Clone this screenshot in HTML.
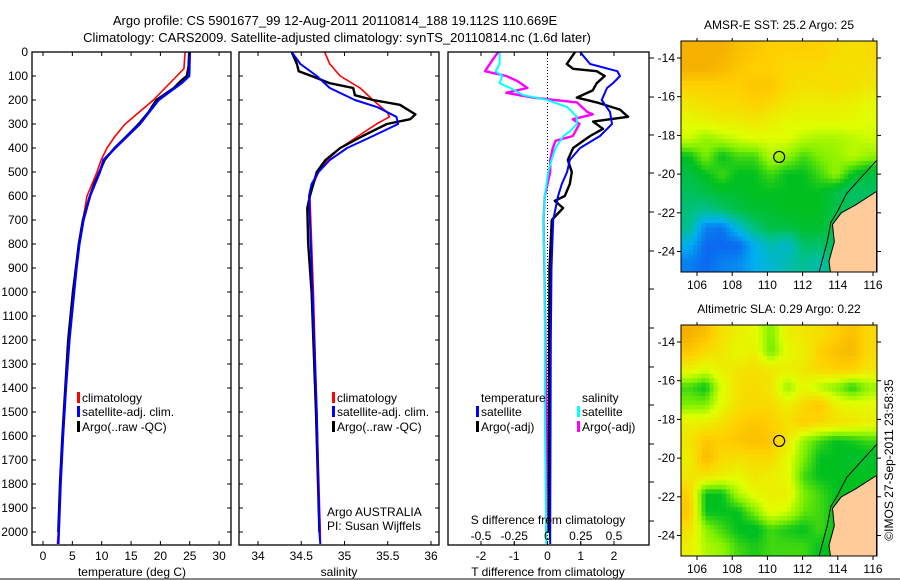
<!DOCTYPE html>
<html><head><meta charset="utf-8"><style>
body{margin:0;background:#fff}
svg{display:block;font-family:"Liberation Sans",sans-serif}
</style></head><body>
<svg id="fig" width="900" height="580" viewBox="0 0 900 580">
<rect x="0" y="0" width="900" height="580" fill="#fff"/>
<line x1="0" y1="579" x2="900" y2="579" stroke="#888" stroke-width="2"/>
<text x="335" y="25" text-anchor="middle" font-size="13">Argo profile: CS 5901677_99 12-Aug-2011 20110814_188 19.112S 110.669E</text>
<text x="337" y="42" text-anchor="middle" font-size="13">Climatology: CARS2009. Satellite-adjusted climatology: synTS_20110814.nc (1.6d later)</text>
<text transform="translate(893,460) rotate(-90)" text-anchor="middle" font-size="12">©IMOS 27-Sep-2011 23:58:35</text>
<g id="g"></g>
</svg>
<script>
// ---- temperature profile data ----
const tClimDepth=[0,70,100,150,200,250,300,350,400,450,500,600,700,800,900,1000,1200,1400,1600,1800,2000,2050];
const tClim=[24.2,24.0,22.8,20.8,18.8,16.4,14.0,12.3,10.9,9.9,9.2,7.5,6.8,6.2,5.7,5.2,4.4,3.8,3.3,2.9,2.6,2.45];
const tSatDepth=[0,100,130,200,300,400,450,500,600,700,800,900,1000,1200,1400,1600,1800,2000,2050];
const tSat=[25.0,24.9,23.6,19.7,16.5,12.3,10.3,9.7,8.0,6.9,6.2,5.7,5.3,4.5,3.9,3.4,3.0,2.7,2.6];
const tArgoDepth=[0,60,100,120,150,180,200,250,300,350,400,450,500,550,600,700,800,900,1000,1200,1400,1600,1800,2000];
const tArgo=[24.9,24.8,24.5,23.5,22.3,20.5,19.3,18.0,16.3,14.3,12.2,10.5,9.6,8.7,8.0,6.8,6.1,5.6,5.1,4.3,3.8,3.3,2.9,2.6];
// ---- salinity profile data ----
const sClimDepth=[0,50,100,150,200,250,270,300,350,400,450,500,550,600,700,1000,1500,2000,2050];
const sClim=[34.77,34.83,34.95,35.18,35.33,35.49,35.52,35.37,35.16,34.95,34.8,34.7,34.64,34.6,34.61,34.64,34.68,34.72,34.72];
const sSatDepth=[0,50,100,150,200,230,270,300,350,400,450,500,550,600,700,1000,1500,2000,2050];
const sSat=[34.39,34.49,34.68,34.83,35.12,35.38,35.6,35.62,35.33,35.03,34.83,34.7,34.62,34.59,34.6,34.63,34.68,34.71,34.72];
const sArgoDepth=[0,50,80,100,130,150,180,200,220,260,280,300,350,400,450,500,600,650,800,1000,1500,2000];
const sArgo=[34.39,34.45,34.47,34.62,34.83,35.1,35.12,35.33,35.64,35.82,35.76,35.49,35.21,34.95,34.78,34.68,34.6,34.57,34.58,34.62,34.67,34.71];
// ---- difference data ----
const dtSatDepth=[0,50,80,100,130,150,200,250,300,350,400,450,500,550,600,700,900,1200,1600,2000,2050];
const dtSat=[0.98,1.28,2.1,2.18,1.97,1.79,1.63,1.88,1.94,1.58,0.98,0.67,0.59,0.43,0.32,0.17,0.12,0.1,0.09,0.08,0.08];
const dtArgoDepth=[0,50,70,80,100,130,160,190,210,240,270,290,320,350,400,450,500,550,600,620,650,700,900,1200,1600,2000];
const dtArgo=[0.83,0.58,0.77,1.48,1.72,1.48,1.36,0.88,1.48,2.18,2.42,1.37,1.67,1.28,0.77,0.61,0.73,0.67,0.52,0.22,0.47,0.13,0.06,0.05,0.04,0.04];
const dsSatDepth=[0,50,80,100,130,150,180,200,230,270,300,330,350,400,450,500,600,700,1000,1500,2000,2050];
const dsSat=[-0.36,-0.36,-0.39,-0.34,-0.36,-0.28,-0.18,0,0.15,0.22,0.22,0.17,0.12,0.06,0.03,0.005,-0.02,-0.03,-0.02,-0.02,-0.01,-0.01];
const dsArgoDepth=[0,30,80,100,120,150,170,190,210,250,260,280,300,350,370,400,450,500,550,600,700,1000,1500,2000];
const dsArgo=[-0.37,-0.41,-0.47,-0.31,-0.23,-0.15,-0.31,-0.11,0.22,0.3,0.34,0.19,0.24,0.19,0.06,0.04,0.02,0.02,0,-0.02,-0.03,-0.02,-0.01,-0.01];
// ---- ticks ----
const depthTicks=[0,100,200,300,400,500,600,700,800,900,1000,1100,1200,1300,1400,1500,1600,1700,1800,1900,2000];
const tempTicks=[0,5,10,15,20,25,30];
const salTicks=[34,34.5,35,35.5,36];
const dtTicks=[-2,-1,0,1,2];
const dsTicks=[-0.5,-0.25,0,0.25,0.5];
const lonTicks=[106,108,110,112,114,116];
const latTicks=[-14,-16,-18,-20,-22,-24];
// ---- map grids (normalised colour value 0..1, rows north→south, cols west→east) ----
const sstGrid=[
[0.95,0.95,0.95,0.9,0.88,0.85,0.85,0.85,0.85,0.82,0.8,0.82],
[0.95,0.95,0.92,0.88,0.85,0.85,0.82,0.82,0.82,0.8,0.8,0.8],
[0.85,0.85,0.85,0.85,0.88,0.88,0.82,0.8,0.8,0.82,0.8,0.78],
[0.78,0.8,0.82,0.82,0.85,0.82,0.78,0.76,0.76,0.76,0.75,0.72],
[0.72,0.74,0.76,0.76,0.78,0.75,0.72,0.72,0.72,0.72,0.72,0.7],
[0.68,0.62,0.65,0.68,0.7,0.7,0.7,0.66,0.64,0.64,0.66,0.68],
[0.5,0.6,0.5,0.55,0.55,0.65,0.62,0.55,0.6,0.62,0.66,0.62],
[0.45,0.5,0.55,0.5,0.5,0.55,0.5,0.5,0.55,0.62,0.5,0.45],
[0.42,0.45,0.48,0.48,0.5,0.5,0.5,0.5,0.5,0.45,0.4,0.42],
[0.38,0.35,0.4,0.45,0.48,0.48,0.5,0.5,0.5,0.45,0.42,0.42],
[0.35,0.1,0.08,0.25,0.38,0.45,0.45,0.48,0.48,0.42,0.42,0.42],
[0.2,0.05,0.05,0.05,0.2,0.3,0.25,0.4,0.4,0.42,0.42,0.42],
[0.1,0.05,0.1,0.12,0.2,0.25,0.3,0.35,0.3,0.42,0.42,0.42]];
const slaGrid=[
[0.95,0.9,0.8,0.75,0.72,0.6,0.75,0.78,0.8,0.85,0.9,0.82],
[0.88,0.82,0.78,0.72,0.75,0.58,0.72,0.75,0.85,0.9,0.92,0.82],
[0.75,0.7,0.75,0.78,0.8,0.78,0.75,0.78,0.82,0.85,0.85,0.78],
[0.55,0.5,0.7,0.8,0.82,0.78,0.62,0.72,0.65,0.6,0.52,0.62],
[0.6,0.6,0.72,0.8,0.82,0.82,0.75,0.82,0.88,0.75,0.72,0.72],
[0.75,0.75,0.8,0.85,0.88,0.85,0.8,0.85,0.82,0.8,0.78,0.75],
[0.78,0.88,0.85,0.88,0.9,0.88,0.78,0.62,0.55,0.5,0.52,0.55],
[0.75,0.92,0.82,0.8,0.82,0.82,0.72,0.6,0.5,0.5,0.48,0.48],
[0.78,0.78,0.75,0.72,0.78,0.75,0.72,0.55,0.5,0.5,0.5,0.5],
[0.85,0.5,0.5,0.65,0.72,0.75,0.75,0.6,0.55,0.5,0.5,0.5],
[0.88,0.5,0.5,0.5,0.6,0.72,0.68,0.58,0.55,0.5,0.5,0.5],
[0.8,0.62,0.55,0.5,0.48,0.55,0.52,0.5,0.55,0.5,0.5,0.5],
[0.75,0.65,0.62,0.55,0.52,0.55,0.55,0.55,0.5,0.5,0.5,0.5]];
const coastLon=[116.2,115.2,114.5,114.0,113.6,113.4,113.1,112.9];
const coastLat=[-19.3,-20.3,-21.0,-21.9,-22.5,-23.5,-24.5,-25.2];
const landLon=[116.2,115.0,114.2,113.7,113.8,113.5,113.6,116.2];
const landLat=[-20.9,-21.6,-22.0,-22.6,-23.5,-24.5,-25.2,-25.2];
const argoLon=110.669, argoLat=-19.112;

const NS='http://www.w3.org/2000/svg';
const G=document.getElementById('g');
function mk(tag,attrs,parent){const e=document.createElementNS(NS,tag);for(const k in attrs)e.setAttribute(k,attrs[k]);(parent||G).appendChild(e);return e;}
function txt(x,y,s,size,anchor,parent){const t=mk('text',{x:x,y:y,'font-size':size||12,'text-anchor':anchor||'middle'},parent);t.textContent=s;return t;}

const yD=d=>52+0.24*d;
const PB=545;
const panels=[
 {name:'temperature',x0:32,x1:231,sx:v=>43+5.87*v},
 {name:'salinity',x0:239,x1:439,sx:v=>258+86.5*(v-34)},
 {name:'difference',x0:448,x1:649,sx:v=>547.5+33.25*v}
];
const sxS=v=>547.5+133*v;

panels.forEach((p,i)=>{
  const g=mk('g',{});
  
  
  const cp=mk('clipPath',{id:'cp'+i},g);
  mk('rect',{x:p.x0,y:52,width:p.x1-p.x0,height:PB-52},cp);
  p.g=g;
});

function line(panel,idx,xs,ds,scale,color,w,name){
  const pts=xs.map((v,k)=>scale(v).toFixed(1)+','+yD(ds[k]).toFixed(1)).join(' ');
  const e=mk('polyline',{points:pts,fill:'none',stroke:color,'stroke-width':w,'clip-path':'url(#cp'+idx+')','stroke-linejoin':'round'},panel.g);
  
  
}
{const z=mk('line',{x1:547.5,y1:52,x2:547.5,y2:PB,stroke:'#000','stroke-width':1,'stroke-dasharray':'1,2'},panels[2].g);

}

line(panels[0],0,tClim,tClimDepth,panels[0].sx,'#f00',1.6,'temp-climatology-line');
line(panels[0],0,tArgo,tArgoDepth,panels[0].sx,'#000',2.4,'temp-argo-line');
line(panels[0],0,tSat,tSatDepth,panels[0].sx,'#00f',2.4,'temp-satellite-line');
line(panels[1],1,sClim,sClimDepth,panels[1].sx,'#f00',1.6,'sal-climatology-line');
line(panels[1],1,sArgo,sArgoDepth,panels[1].sx,'#000',2.4,'sal-argo-line');
line(panels[1],1,sSat,sSatDepth,panels[1].sx,'#00f',2,'sal-satellite-line');
line(panels[2],2,dsArgo,dsArgoDepth,sxS,'#f0f',2.4,'sdiff-argo-line');
line(panels[2],2,dsSat,dsSatDepth,sxS,'#0ff',2,'sdiff-satellite-line');
line(panels[2],2,dtArgo,dtArgoDepth,panels[2].sx,'#000',2.4,'tdiff-argo-line');
line(panels[2],2,dtSat,dtSatDepth,panels[2].sx,'#00f',2,'tdiff-satellite-line');

panels.forEach((p,i)=>{
  const f=mk('rect',{x:p.x0,y:52,width:p.x1-p.x0,height:PB-52,fill:'none',stroke:'#000','stroke-width':1.3},p.g);
  
  
  if(i<2){
    depthTicks.forEach(d=>{
      mk('line',{x1:p.x0,y1:yD(d),x2:p.x0+4,y2:yD(d),stroke:'#000'},p.g);
      mk('line',{x1:p.x1-4,y1:yD(d),x2:p.x1,y2:yD(d),stroke:'#000'},p.g);
    });
  }
});
depthTicks.forEach(d=>{const t=txt(28,yD(d)+4,String(d),12,'end');

});
function xt(p,ticks,scale,yl){
  ticks.forEach(v=>{const x=scale(v);
    mk('line',{x1:x,y1:PB,x2:x,y2:PB-4,stroke:'#000'},p.g);
    mk('line',{x1:x,y1:52,x2:x,y2:56,stroke:'#000'},p.g);
    const t=txt(x,yl,String(v),12,'middle',p.g);
    
    });
}
xt(panels[0],tempTicks,panels[0].sx,560);
xt(panels[1],salTicks,panels[1].sx,560);
xt(panels[2],dtTicks,panels[2].sx,560);
dsTicks.forEach(v=>{const x=sxS(v);
  mk('line',{x1:x,y1:PB,x2:x,y2:PB-3,stroke:'#000'},panels[2].g);
  const t=txt(x,540,String(v),12,'middle',panels[2].g);
  
  });
[58,97,135,173,212,251,289,328,367,405,444,482,521].forEach(y=>mk('line',{x1:649,y1:y,x2:654,y2:y,stroke:'#000'},panels[2].g));

[['temperature (deg C)',132,'temp-x-axis-title'],['salinity',339,'sal-x-axis-title'],['T difference from climatology',548,'tdiff-x-axis-title']].forEach(a=>{
  const t=txt(a[1],576,a[0],12);
  
  });
{const t=txt(548,524,'S difference from climatology',12);

}

function leg(x,y,color,label){
  if(color){const b=mk('rect',{x:x-5,y:y-10,width:3,height:11,fill:color});
  
  }
  const t=txt(x,y,label,12,'start');
  
  
}
leg(82,402,'#f00','climatology');leg(82,416,'#00f','satellite-adj. clim.');leg(82,431,'#000','Argo(..raw -QC)');
leg(337,402,'#f00','climatology');leg(337,416,'#00f','satellite-adj. clim.');leg(337,431,'#000','Argo(..raw -QC)');
leg(481,402,null,'temperature');leg(481,416,'#00f','satellite');leg(481,431,'#000','Argo(-adj)');
leg(582,402,null,'salinity');leg(582,416,'#0ff','satellite');leg(582,431,'#f0f','Argo(-adj)');
{const a=txt(327,516,'Argo AUSTRALIA',12,'start');
const b=txt(327,530,'PI: Susan Wijffels',12,'start');}

const stops=[[0,[16,80,240]],[0.2,[0,176,240]],[0.35,[0,192,144]],[0.5,[0,192,32]],[0.6,[128,240,0]],[0.7,[224,255,0]],[0.85,[255,208,0]],[1,[240,160,0]]];
function cmap(v){for(let i=1;i<stops.length;i++){if(v<=stops[i][0]){const a=stops[i-1],b=stops[i],t=(v-a[0])/(b[0]-a[0]);return 'rgb('+a[1].map((c,k)=>Math.round(c+(b[1][k]-c)*t)).join(',')+')';}}return 'rgb(240,160,0)';}
function sample(grid,fr,fc){
  const R=grid.length-1,C=grid[0].length-1;
  fr=Math.max(0,Math.min(R,fr));fc=Math.max(0,Math.min(C,fc));
  const r0=Math.floor(fr),c0=Math.floor(fc),r1=Math.min(R,r0+1),c1=Math.min(C,c0+1),tr=fr-r0,tc=fc-c0;
  return grid[r0][c0]*(1-tr)*(1-tc)+grid[r0][c1]*(1-tr)*tc+grid[r1][c0]*tr*(1-tc)+grid[r1][c1]*tr*tc;
}

function drawMap(idx,grid,top,title,name){
  const x0=681,x1=877,y0=top,y1=top+231;
  const lonX=l=>697+17.6*(l-106);
  const latY=l=>(top+17)+19.35*(-14-l);
  const g=mk('g',{});
  
  
  const cp=mk('clipPath',{id:'mc'+idx},g);
  mk('rect',{x:x0,y:y0,width:x1-x0,height:y1-y0},cp);
  const cg=mk('g',{'clip-path':'url(#mc'+idx+')'},g);
  const rows=grid.length,cols=grid[0].length,up=4;
  const cw=(x1-x0)/(cols*up),ch=(y1-y0)/(rows*up);
  for(let r=0;r<rows*up;r++)for(let c=0;c<cols*up;c++){
    const v=sample(grid,(r+0.5)/up-0.5,(c+0.5)/up-0.5);
    const cell=mk('rect',{x:(x0+c*cw).toFixed(2),y:(y0+r*ch).toFixed(2),width:(cw+0.5).toFixed(2),height:(ch+0.5).toFixed(2),fill:cmap(v)},cg);
    
    
  }
  const land=mk('polygon',{points:landLon.map((l,k)=>lonX(l).toFixed(1)+','+latY(landLat[k]).toFixed(1)).join(' '),fill:'#ffcc99',stroke:'#000','stroke-width':1},cg);
  
  
  const coast=mk('polyline',{points:coastLon.map((l,k)=>lonX(l).toFixed(1)+','+latY(coastLat[k]).toFixed(1)).join(' '),fill:'none',stroke:'#000','stroke-width':1},cg);
  
  
  const c=mk('circle',{cx:lonX(argoLon),cy:latY(argoLat),r:5.5,fill:'none',stroke:'#000','stroke-width':1.2},g);
  
  
  mk('rect',{x:x0,y:y0,width:x1-x0,height:y1-y0,fill:'none',stroke:'#000','stroke-width':1},g);
  lonTicks.forEach(l=>{const x=lonX(l);mk('line',{x1:x,y1:y1,x2:x,y2:y1+4,stroke:'#000'},g);mk('line',{x1:x,y1:y0,x2:x,y2:y0-3,stroke:'#000'},g);
    const t=txt(x,y1+17,String(l),12,'middle',g);});
  latTicks.forEach(l=>{const y=latY(l);mk('line',{x1:x0,y1:y,x2:x0-4,y2:y,stroke:'#000'},g);mk('line',{x1:x1,y1:y,x2:x1+4,y2:y,stroke:'#000'},g);
    const t=txt(x0-6,y+4,String(l),12,'end',g);});
  const tt=txt(779,top-12,title,12,'middle',g);
  
  
}
drawMap(0,sstGrid,41,'AMSR-E SST: 25.2 Argo: 25','sst-map');
drawMap(1,slaGrid,325,'Altimetric SLA: 0.29 Argo: 0.22','sla-map');
</script>
</body></html>
